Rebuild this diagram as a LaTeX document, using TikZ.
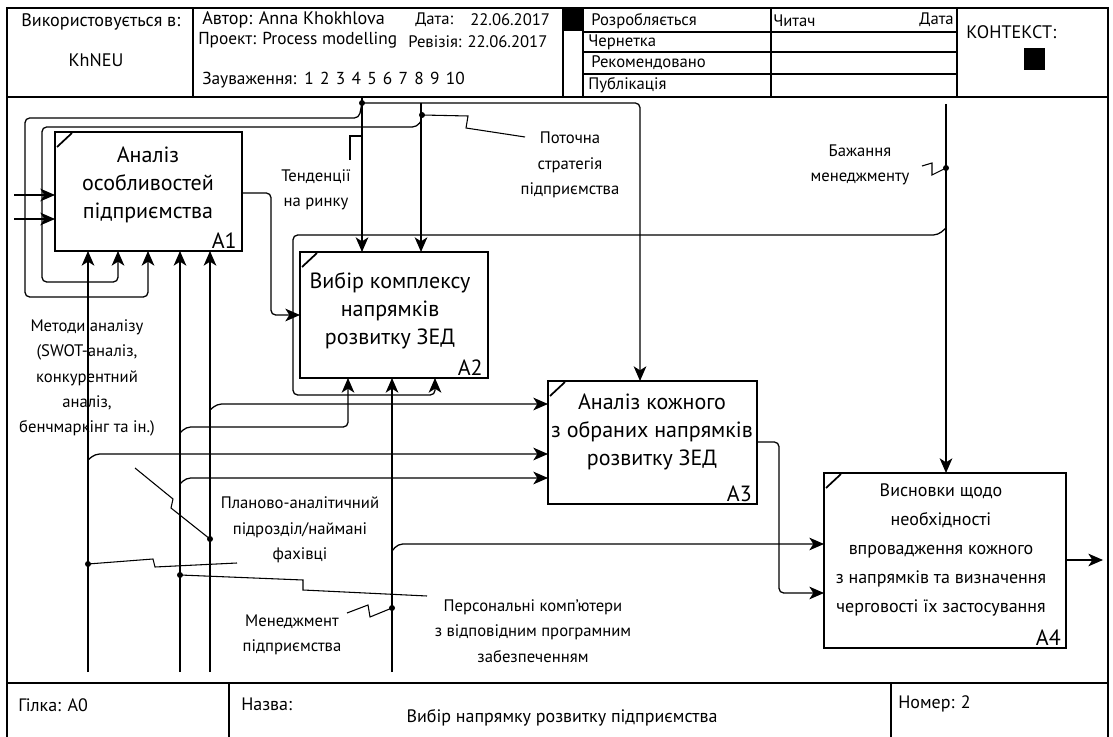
\documentclass[tikz,border=0pt]{standalone}
\usepackage{fontspec}
\setmainfont{PT Sans}
\usetikzlibrary{arrows.meta}
\begin{document}
\begin{tikzpicture}[x=0.75pt,y=-0.75pt,
  frm/.style={line width=1.5pt},
  sep/.style={line width=1pt},
  box/.style={draw, line width=2pt, inner sep=0pt, outer sep=0pt},
  conn/.style={line width=0.95pt, rounded corners=3.5pt},
  arr/.style={conn, -{Stealth[length=11pt,width=9.5pt,inset=3pt]}},
  lead/.style={line width=0.8pt},
  jdot/.style={circle, fill, inner sep=0pt, minimum size=4.5pt},
  lbl/.style={font=\fontsize{12.5}{19}\selectfont, align=center, inner sep=0pt},
  btxt/.style={font=\fontsize{16.5}{21}\selectfont, align=center, inner sep=0pt},
  ctxt/.style={font=\fontsize{13.5}{21.7}\selectfont, align=center, inner sep=0pt},
  num/.style={font=\fontsize{16.5}{18}\selectfont, inner sep=0pt, anchor=south east},
  htxt/.style={font=\fontsize{12.5}{14}\selectfont, inner sep=0pt, anchor=west},
  hmid/.style={font=\fontsize{13}{14}\selectfont, inner sep=0pt, anchor=west},
  hbig/.style={font=\fontsize{13.6}{15}\selectfont, inner sep=0pt, anchor=west},
  ftxt/.style={font=\fontsize{13.5}{15}\selectfont, inner sep=0pt, anchor=west}
]
\useasboundingbox (0,0) rectangle (1113,737);

% ---------- frame ----------
\draw[frm] (7,737) -- (7,8) -- (1108,8) -- (1108,737);
\draw[frm] (7,97) -- (1108,97);
\draw[frm] (7,683) -- (1108,683);
\foreach \x in {193,563,583,771,957} \draw[sep] (\x,8) -- (\x,97);
\foreach \y in {32,52,74} \draw[sep] (583,\y) -- (957,\y);
\fill (563,8) rectangle (583,31);
\fill (1024,48) rectangle (1045,70);
\draw[sep] (229,683) -- (229,737);
\draw[sep] (891,683) -- (891,737);

% header texts
\node[hbig] (h1) at (21,22) {Використовується в:};
\node[hbig, anchor=center] (h2) at (96,60) {KhNEU};
\node[hbig] (h3) at (202,20) {Автор: Anna Khokhlova};
\node[htxt] (h4) at (415,20) {Дата:};
\node[htxt] (h5) at (470,20) {22.06.2017};
\node[hmid] (h6) at (198,40) {Проект: Process modelling};
\node[htxt] (h7) at (408,42) {Ревізія: 22.06.2017};
\node[hmid] (h8) at (202,80) {Зауваження:\hspace{6pt}1\hspace{4.7pt}2\hspace{4.7pt}3\hspace{4.7pt}4\hspace{4.7pt}5\hspace{4.7pt}6\hspace{4.7pt}7\hspace{4.7pt}8\hspace{4.7pt}9\hspace{4.7pt}10};
\node[htxt] (s1) at (591,21) {Розробляється};
\node[htxt] (s2) at (588,42) {Чернетка};
\node[htxt] (s3) at (591,63) {Рекомендовано};
\node[htxt] (s4) at (588,85) {Публікація};
\node[htxt] (r1) at (773,21) {Читач};
\node[htxt, anchor=east] (r2) at (954,20) {Дата};
\node[hbig] (k1) at (966,32) {КОНТЕКСТ:};

% footer texts
\node[ftxt] (f1) at (18,705) {Гілка: A0};
\node[ftxt] (f2) at (241,704) {Назва:};
\node[ftxt, anchor=center] (f3) at (562,718) {Вибір напрямку розвитку підприємства};
\node[ftxt] (f4) at (898,704) {Номер: 2};

% ---------- boxes ----------
\node[box, minimum width=140.25pt, minimum height=89.25pt] (A1) at (148.5,191.5) {};
\node[box, minimum width=141pt, minimum height=94.5pt] (A2) at (394,315) {};
\node[box, minimum width=156.75pt, minimum height=92.25pt] (A3) at (652.5,442.5) {};
\node[box, minimum width=181.5pt, minimum height=131.25pt] (A4) at (945,560.5) {};
\foreach \b in {A1,A2,A3,A4}
  \draw[line width=1.3pt] ([shift={(2,15)}]\b.north west) -- ([shift={(17,1)}]\b.north west);

\node[btxt] (A1t) at (148,185) {Аналіз\\особливостей\\підприємства};
\node[btxt] (A2t) at (390,311) {Вибір комплексу\\напрямків\\розвитку ЗЕД};
\node[btxt] (A3t) at (652,432) {Аналіз кожного\\з обраних напрямків\\розвитку ЗЕД};
\node[ctxt] (A4t) at (941,550) {Висновки щодо\\необхідності\\впровадження кожного\\з напрямків та визначення\\черговості їх застосування};
\node[num] (A1n) at ([shift={(-5,-2)}]A1.south east) {A1};
\node[num] (A2n) at ([shift={(-5,-2)}]A2.south east) {A2};
\node[num] (A3n) at ([shift={(-5,-2)}]A3.south east) {A3};
\node[num] (A4n) at ([shift={(-5,-2)}]A4.south east) {A4};

% ---------- labels ----------
\node[lbl] (Lt) at (316,190) {Тенденції\\на ринку};
\node[lbl] (Lp) at (570,165) {Поточна\\стратегія\\підприємства};
\node[lbl] (Lb) at (860,165) {Бажання\\менеджменту};
\node[lbl] (Lm) at (87,378) {Методи аналізу\\(SWOT-аналіз,\\конкурентний\\аналіз,\\бенчмаркінг та ін.)};
\node[lbl] (Lpl) at (300,530) {Планово-аналітичний\\підрозділ/наймані\\фахівці};
\node[lbl] (Lpc) at (533,631) {Персональні комп’ютери\\з відповідним програмним\\забезпеченням};
\node[lbl] (Lmg) at (292,635) {Менеджмент\\підприємства};

% ---------- coordinates ----------
\coordinate (tT) at (362,97);
\coordinate (tP) at (421,103);
\coordinate (tB) at (946,104);
\coordinate (cA3) at (640,103);
\coordinate (in1) at (14,195);
\coordinate (in2) at (14,219);
\coordinate (m1) at (88,672);
\coordinate (m2) at (180,672);
\coordinate (m3) at (210,672);
\coordinate (m4) at (392,672);
\coordinate (out) at (1103,560);

\node[jdot] (dT) at (362,103) {};
\node[jdot] (dP) at (422,115) {};
\node[jdot] (dB) at (946,168) {};
\node[jdot] (dM3) at (210,539) {};
\node[jdot] (dM1) at (88,564) {};
\node[jdot] (dM2) at (180,575) {};
\node[jdot] (dM4) at (392,608) {};

% ---------- controls ----------
\draw[arr] (tT) -- (tT |- A2.north);
\draw[arr] (dT.center) -- (cA3) -- (cA3 |- A3.north);
\draw[arr] (dT.center) -- (359,118) -- (25,118) -- (25,297) -- (148,297) -- (148,297 |- A1.south);
\draw[arr] (tP) -- (tP |- A2.north);
\draw[arr] (421,121) -- (417,127) -- (42,127) -- (42,282) -- (118,282) -- (118,282 |- A1.south);
\draw[arr] (tB) -- (tB |- A4.north);
\draw[arr] (946,228) -- (938,235) -- (293,235) -- (293,395) -- (435,395) -- (435,395 |- A2.south);

% ---------- inputs / outputs ----------
\draw[arr] (in1) -- (in1 -| A1.west);
\draw[arr] (in2) -- (in2 -| A1.west);
\draw[arr] (A1.east |- 0,193) -- (271,193) -- (271,315) -- (A2.west |- 0,315);
\draw[arr] (A3.east |- 0,442) -- (779,442) -- (779,593) -- (A4.west |- 0,593);
\draw[arr] (A4.east |- out) -- (out);

% ---------- mechanisms ----------
\draw[arr] (m1) -- (m1 |- A1.south);
\draw[arr] (m2) -- (m2 |- A1.south);
\draw[arr] (m3) -- (m3 |- A1.south);
\draw[arr] (m4) -- (m4 |- A2.south);
\draw[arr] (210,410) -- (217,404) -- (A3.west |- 0,404);
\draw[arr] (180,433) -- (186,427) -- (348,427) -- (348,427 |- A2.south);
\draw[arr] (88,460) -- (95,454) -- (A3.west |- 0,454);
\draw[arr] (180,484) -- (186,478) -- (A3.west |- 0,478);
\draw[arr] (392,551) -- (398,544) -- (A4.west |- 0,544);

% ---------- leaders ----------
\draw[lead] (350,160) -- (350,136) -- (362,136);
\draw[lead] (dP.center) -- (468,116) -- (466,128) -- (525,137);
\draw[lead] (dB.center) -- (932,175) -- (932,163) -- (922,166);
\draw[lead] (135,468) -- (173,499) -- (171,508) -- (dM3.center);
\draw[lead] (dM1.center) -- (153,559) -- (155,567) -- (237,563);
\draw[lead] (dM2.center) -- (303,580) -- (303,590) -- (427,596);
\draw[lead] (347,613) -- (368,605) -- (370,617) -- (dM4.center);
\end{tikzpicture}
\end{document}
